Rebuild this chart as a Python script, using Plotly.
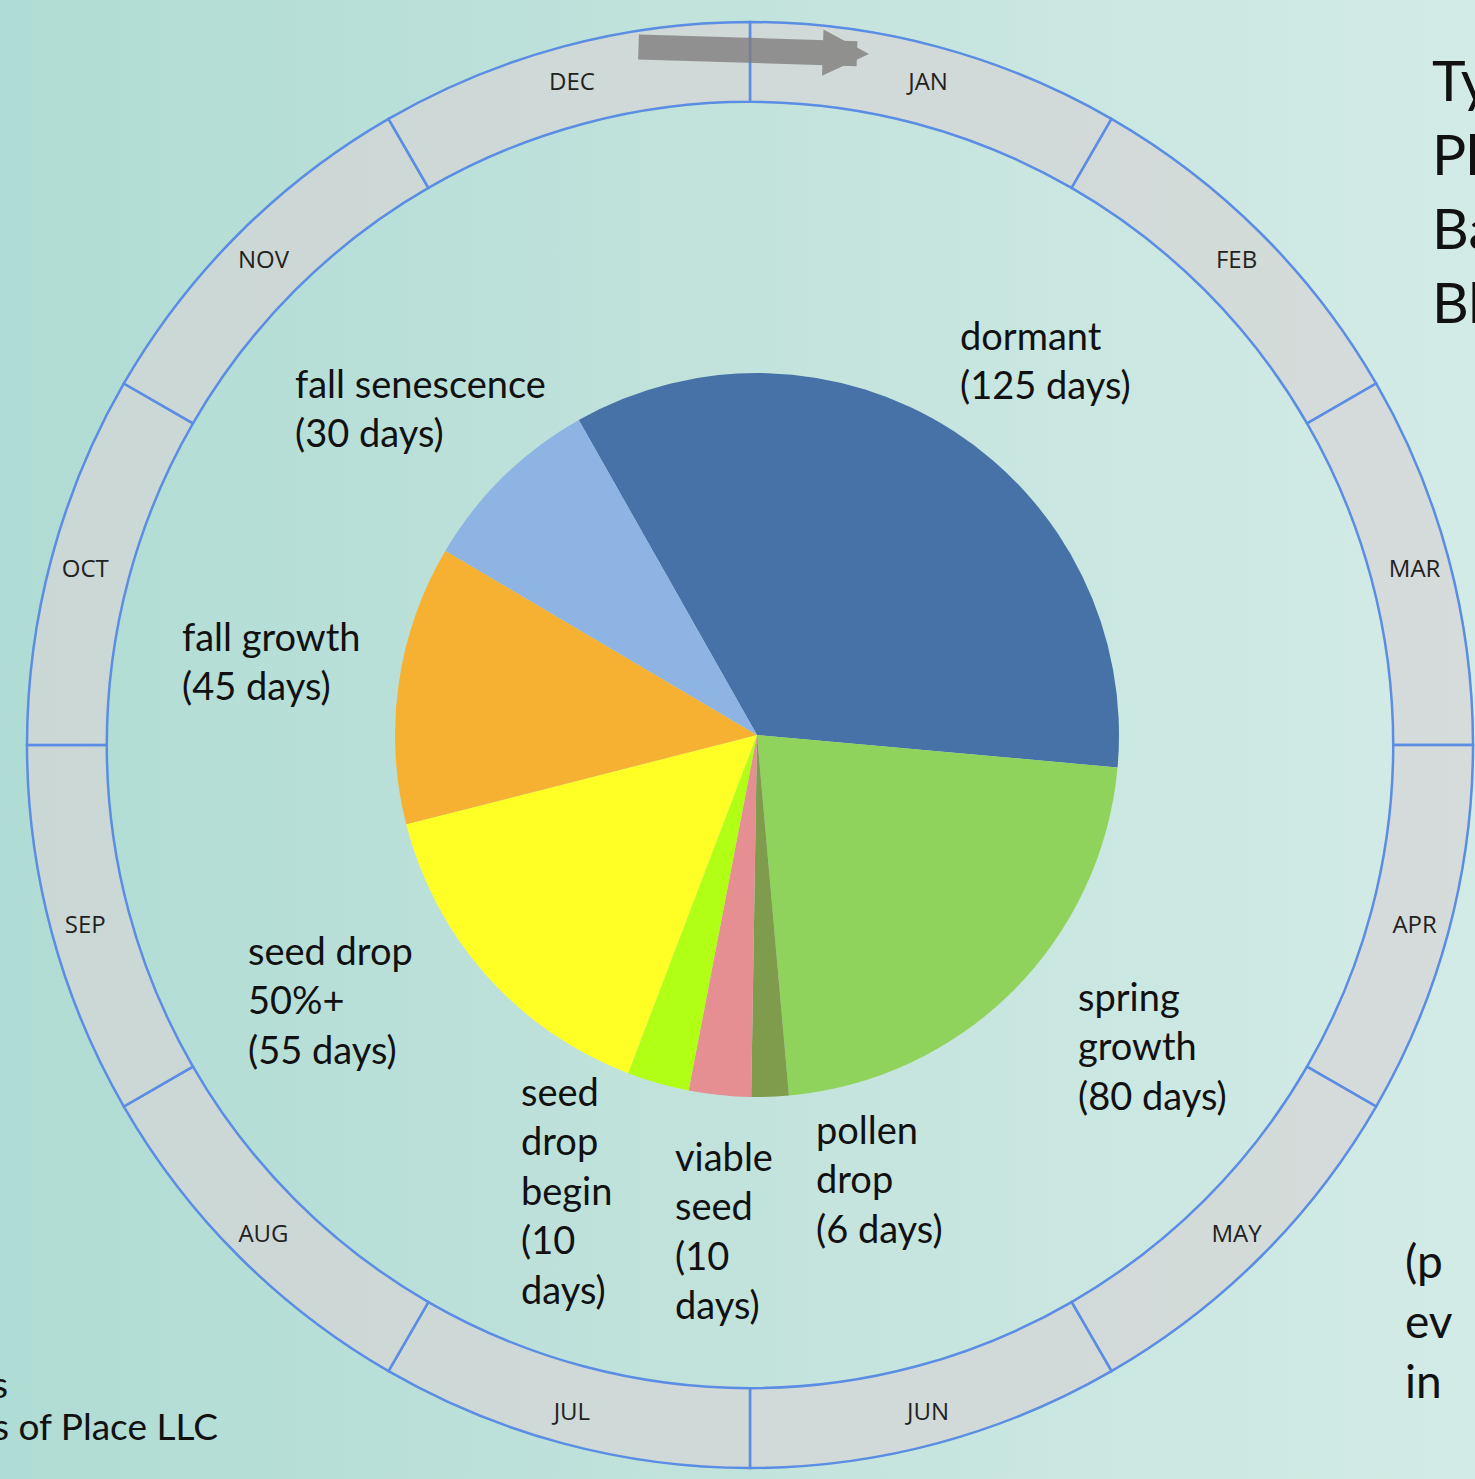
import plotly.graph_objects as go

W, H = 1475, 1479

# ---- data ----
phases = ["dormant", "spring growth", "pollen drop", "viable seed",
          "seed drop begin", "seed drop 50%+", "fall growth", "fall senescence"]
days = [125, 80, 6, 10, 10, 55, 45, 30]
phase_colors = ["#4672a8", "#8fd35c", "#7f9c4c", "#e58f93",
                "#b0ff14", "#ffff26", "#f6b133", "#8db4e2"]
months = ["JAN", "FEB", "MAR", "APR", "MAY", "JUN",
          "JUL", "AUG", "SEP", "OCT", "NOV", "DEC"]
month_band = [1] * 12

# label text for each phase (as printed)
phase_labels = ["dormant<br>(125 days)", "spring<br>growth<br>(80 days)",
                "pollen<br>drop<br>(6 days)", "viable<br>seed<br>(10<br>days)",
                "seed<br>drop<br>begin<br>(10<br>days)", "seed drop<br>50%+<br>(55 days)",
                "fall growth<br>(45 days)", "fall senescence<br>(30 days)"]
# label anchor (left x, vertical centre y) in pixels
label_pos = [(958, 359), (1076, 1045), (814, 1178), (673, 1230),
             (519, 1190), (246, 999), (180, 660), (293, 407)]


def px(x):
    return x / W


def py(y):
    return (H - y) / H


fig = go.Figure()

# background gradient
fig.add_trace(go.Scatter(
    x=[0, 1, 1, 0, 0], y=[0, 0, 1, 1, 0], mode="lines", fill="toself",
    line=dict(width=0), hoverinfo="skip", showlegend=False,
    fillgradient=dict(type="horizontal",
                      colorscale=[[0, "#afdcd4"], [0.5, "#c2e3dc"], [1, "#d3ebe6"]]),
))

# month ring
ring_r0 = 645
fig.add_trace(go.Barpolar(
    theta=months, r=[80 * v for v in month_band], base=ring_r0,
    marker=dict(color="rgba(214,214,214,0.72)", line=dict(color="#5a8de3", width=2.5)),
    hoverinfo="skip", showlegend=False,
))
fig.add_trace(go.Scatterpolar(
    theta=months, r=[690] * 12, mode="text", text=months, subplot="polar2",
    textfont=dict(family="Open Sans", size=24, color="#222222"),
    hoverinfo="skip", showlegend=False,
))

# phenology pie
cx, cy, rad = 757, 735, 362
fig.add_trace(go.Pie(
    labels=phases, values=days, sort=False, direction="clockwise",
    rotation=-29.5, textinfo="none", hoverinfo="label+value",
    marker=dict(colors=phase_colors, line=dict(width=0)),
    domain=dict(x=[px(cx - rad), px(cx + rad)], y=[py(cy + rad), py(cy - rad)]),
    showlegend=False,
))

annotations = []
for txt, (lx, ly) in zip(phase_labels, label_pos):
    annotations.append(dict(
        x=px(lx), y=py(ly), xref="paper", yref="paper", text=txt,
        xanchor="left", yanchor="middle", align="left", showarrow=False,
        font=dict(family="Lato", size=38, color="#111111"),
    ))

# direction arrow
annotations.append(dict(
    x=px(869), y=py(54), xref="paper", yref="paper", text="",
    showarrow=True, ax=-232, ay=-7, arrowhead=2, arrowsize=0.37,
    arrowwidth=25, arrowcolor="rgba(128,126,126,0.8)", standoff=0,
))

# cropped title and notes (cut by the picture edge as in the original)
annotations.append(dict(
    x=px(1430), y=py(190), xref="paper", yref="paper",
    text="Ty<br>Ph<br>Ba<br>Bl", xanchor="left", yanchor="middle", align="left",
    showarrow=False, font=dict(family="Lato", size=57, color="#111111"),
))
annotations.append(dict(
    x=px(1403), y=py(1320), xref="paper", yref="paper",
    text="(p<br>ev<br>in", xanchor="left", yanchor="middle", align="left",
    showarrow=False, font=dict(family="Lato", size=46, color="#111111"),
))
annotations.append(dict(
    x=px(10), y=py(1383), xref="paper", yref="paper", text="s",
    xanchor="right", yanchor="middle", showarrow=False,
    font=dict(family="Lato", size=37, color="#111111"),
))
annotations.append(dict(
    x=px(220), y=py(1425), xref="paper", yref="paper", text="s of Place LLC",
    xanchor="right", yanchor="middle", showarrow=False,
    font=dict(family="Lato", size=37, color="#111111"),
))

ring_c = (750, 745)
ring_R = 725
lab_cy = 749
angular = dict(direction="clockwise", rotation=75, type="category",
               showgrid=False, showticklabels=False, ticks="", showline=False)
fig.update_layout(
    width=W, height=H, margin=dict(l=0, r=0, t=0, b=0),
    paper_bgcolor="#c2e3dc", plot_bgcolor="rgba(0,0,0,0)",
    xaxis=dict(range=[0, 1], domain=[0, 1], visible=False, fixedrange=True),
    yaxis=dict(range=[0, 1], domain=[0, 1], visible=False, fixedrange=True),
    polar=dict(
        domain=dict(x=[px(ring_c[0] - ring_R), min(1, px(ring_c[0] + ring_R))],
                    y=[max(0, py(ring_c[1] + ring_R)), py(ring_c[1] - ring_R)]),
        bgcolor="rgba(0,0,0,0)",
        radialaxis=dict(range=[0, 727], visible=False, showgrid=False),
        angularaxis=angular,
        bargap=0,
    ),
    polar2=dict(
        domain=dict(x=[px(ring_c[0] - ring_R), min(1, px(ring_c[0] + ring_R))],
                    y=[max(0, py(lab_cy + ring_R)), py(lab_cy - ring_R)]),
        bgcolor="rgba(0,0,0,0)",
        radialaxis=dict(range=[0, 727], visible=False, showgrid=False),
        angularaxis=angular,
    ),
    annotations=annotations,
)

fig.write_html("out.html")
